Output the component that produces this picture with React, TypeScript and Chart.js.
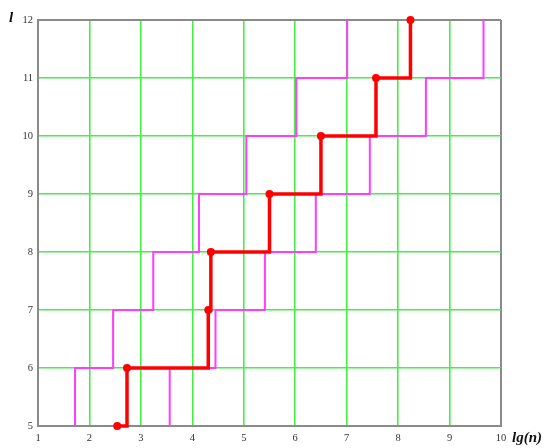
import React, { useEffect, useRef } from "react";
import { Chart, registerables } from "chart.js";

Chart.register(...registerables);

// Red staircase (points shown)
const redX = [2.54, 2.73, 4.31, 4.36, 5.5, 6.5, 7.57, 8.24];
const redY = [5, 6, 7, 8, 9, 10, 11, 12];
// Left magenta boundary
const leftX = [1.72, 1.72, 2.46, 3.24, 4.13, 5.05, 6.02, 7.01];
const leftY = [5, 6, 7, 8, 9, 10, 11, 12];
// Right magenta boundary
const rightX = [3.56, 3.56, 4.45, 5.41, 6.4, 7.45, 8.54, 9.66];
const rightY = [5, 6, 7, 8, 9, 10, 11, 12];

const xTicks = [1, 2, 3, 4, 5, 6, 7, 8, 9, 10];
const yTicks = [5, 6, 7, 8, 9, 10, 11, 12];
const xTitle = "lg(n)";
const yTitle = "l";

const toPts = (xs: number[], ys: number[]) => xs.map((x, i) => ({ x, y: ys[i] }));

const GREEN = "#45f045";
const GRAY = "#8a8a8a";

export default function App() {
  const ref = useRef<HTMLCanvasElement | null>(null);
  useEffect(() => {
    document.body.style.margin = "0";
    const titles = {
      id: "titles",
      afterDraw(chart: any) {
        const ctx = chart.ctx;
        const a = chart.chartArea;
        ctx.save();
        ctx.fillStyle = "#111";
        ctx.font = "italic bold 15px 'Liberation Serif', serif";
        ctx.textBaseline = "middle";
        ctx.textAlign = "left";
        ctx.fillText(xTitle, a.right + 11, a.bottom + 12);
        ctx.fillText(yTitle, 9, a.top - 2);
        ctx.restore();
      },
    };
    const chart = new Chart(ref.current!, {
      type: "scatter",
      data: {
        datasets: [
          {
            data: toPts(redX, redY),
            showLine: true,
            stepped: "before",
            borderColor: "#ff0000",
            backgroundColor: "#ff0000",
            borderWidth: 3.5,
            pointRadius: 4,
            pointBorderWidth: 0,
            clip: false,
          },
          {
            data: toPts(leftX, leftY),
            showLine: true,
            stepped: "before",
            borderColor: "#ff3cff",
            borderWidth: 2,
            pointRadius: 0,
          },
          {
            data: toPts(rightX, rightY),
            showLine: true,
            stepped: "before",
            borderColor: "#ff3cff",
            borderWidth: 2,
            pointRadius: 0,
          },
        ],
      },
      plugins: [titles],
      options: {
        responsive: false,
        animation: false,
        layout: { padding: { left: 0, right: 44, top: 20, bottom: 0 } },
        plugins: { legend: { display: false }, tooltip: { enabled: false } },
        scales: {
          x: {
            type: "linear",
            min: 1,
            max: 10,
            afterBuildTicks: (s: any) => {
              s.ticks = xTicks.map((v) => ({ value: v }));
            },
            afterFit: (s: any) => {
              s.height = 22;
            },
            grid: {
              drawTicks: false,
              lineWidth: (c: any) => (c.tick && (c.tick.value === 10 || c.tick.value === 1) ? 2 : 1.6),
              color: (c: any) => (c.tick && (c.tick.value === 10 || c.tick.value === 1) ? GRAY : GREEN),
            },
            border: { display: true, color: GRAY, width: 2 },
            ticks: {
              padding: 6,
              color: "#333",
              font: { family: "'Liberation Serif', serif", size: 10.5 },
              maxRotation: 0,
            },
          },
          y: {
            type: "linear",
            min: 5,
            max: 12,
            afterBuildTicks: (s: any) => {
              s.ticks = yTicks.map((v) => ({ value: v }));
            },
            afterFit: (s: any) => {
              s.width = 38;
            },
            grid: {
              drawTicks: false,
              lineWidth: (c: any) => (c.tick && (c.tick.value === 12 || c.tick.value === 5) ? 2 : 1.6),
              color: (c: any) => (c.tick && (c.tick.value === 12 || c.tick.value === 5) ? GRAY : GREEN),
            },
            border: { display: true, color: GRAY, width: 2 },
            ticks: {
              padding: 5,
              color: "#333",
              font: { family: "'Liberation Serif', serif", size: 10.5 },
            },
          },
        },
      },
    } as any);
    return () => chart.destroy();
  }, []);
  return <canvas ref={ref} width={545} height={448} style={{ display: "block" }} />;
}
